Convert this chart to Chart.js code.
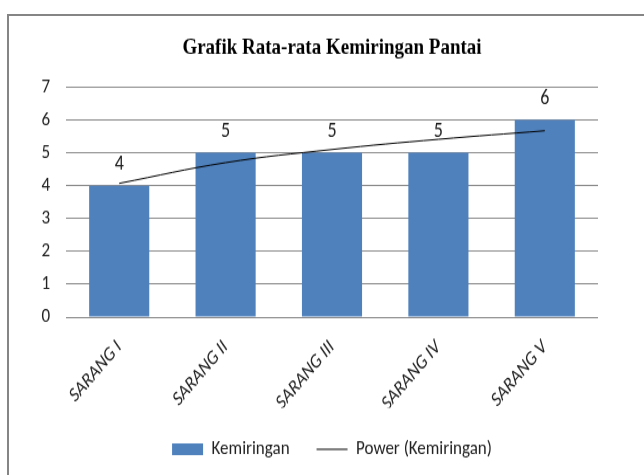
<!DOCTYPE html>
<html>
<head>
<meta charset="utf-8">
<script src="https://cdn.jsdelivr.net/npm/chart.js@4"></script>
<style>
  body { margin: 0; background: #fff; overflow: hidden; }
  #frame { position: absolute; left: 7px; top: 14px; width: 700px; height: 520px; border: 2px solid #858585; }
  #chart { position: absolute; left: 0; top: 0; }
</style>
</head>
<body>
<div id="frame"></div>
<!-- the reference is stretched vertically, so the canvas is drawn 406 high and shown 475 high -->
<canvas id="chart" width="644" height="406" style="width:644px;height:475px"></canvas>
<script>
const categories = ['SARANG I', 'SARANG II', 'SARANG III', 'SARANG IV', 'SARANG V'];
const kemiringan = [4, 5, 5, 5, 6];
const powerTrend = [4.07, 4.70, 5.10, 5.41, 5.67];   // trendline
const yTicks = [0, 1, 2, 3, 4, 5, 6, 7];

const FONT = "Carlito, 'Liberation Sans', sans-serif";

// numbers above each bar
const barLabels = {
    id: 'barLabels',
    afterDatasetsDraw(chart) {
        const meta = chart.getDatasetMeta(0);
        const ctx = chart.ctx;
        ctx.save();
        ctx.font = '18px ' + FONT;
        ctx.fillStyle = '#222';
        ctx.textAlign = 'center';
        ctx.textBaseline = 'alphabetic';
        meta.data.forEach((bar, i) => {
            ctx.fillText(String(kemiringan[i]), bar.x, bar.y - 13.5);
        });
        ctx.restore();
    }
};

const ctx = document.getElementById('chart').getContext('2d');
new Chart(ctx, {
    type: 'bar',
    data: {
        labels: categories,
        datasets: [{
            label: 'Kemiringan',
            data: kemiringan,
            backgroundColor: '#4F81BD',
            barPercentage: 0.565,
            categoryPercentage: 1,
            pointStyle: 'rect',
            order: 1
        }, {
            type: 'line',
            label: 'Power (Kemiringan)',
            data: powerTrend,
            borderColor: '#000',
            backgroundColor: '#000',
            borderWidth: 1,
            pointRadius: 0,
            tension: 0.4,
            pointStyle: 'line',
            order: 0
        }]
    },
    options: {
        responsive: false,
        animation: false,
        layout: { padding: { left: 0, right: 46, top: 0, bottom: 3.5 } },
        scales: {
            x: {
                grid: { display: false },
                border: { display: false },
                ticks: {
                    minRotation: 45, maxRotation: 45, padding: 8,
                    color: '#222',
                    font: { family: FONT, size: 17, style: 'italic' }
                },
                afterFit: s => { s.height = 77.5; }
            },
            y: {
                min: 0, max: 7,
                afterBuildTicks: s => { s.ticks = yTicks.map(v => ({ value: v })); },
                grid: { color: '#8a8a8a', drawTicks: false },
                border: { display: false },
                ticks: {
                    padding: 16, color: '#222',
                    font: { family: FONT, size: 17 }
                },
                afterFit: s => { s.width = 66; }
            }
        },
        plugins: {
            title: {
                display: true,
                fullSize: false,
                text: 'Grafik Rata-rata Kemiringan Pantai',
                color: '#000',
                font: { family: "'Liberation Serif', serif", size: 19, weight: 'bold' },
                padding: { top: 29.6, bottom: 22 }
            },
            legend: {
                position: 'bottom',
                fullSize: false,
                labels: {
                    usePointStyle: true,
                    pointStyleWidth: 31,
                    boxHeight: 10,
                    padding: 27,
                    color: '#222',
                    font: { family: FONT, size: 17 },
                    sort: (a, b) => a.datasetIndex - b.datasetIndex
                }
            },
            tooltip: { enabled: false }
        }
    },
    plugins: [barLabels]
});
</script>
</body>
</html>
